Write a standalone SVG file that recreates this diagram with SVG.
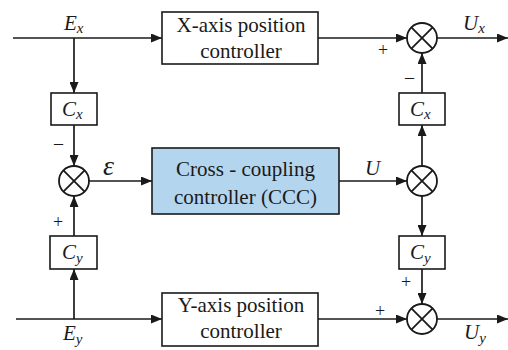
<svg xmlns="http://www.w3.org/2000/svg" width="508" height="350" viewBox="0 0 508 350">
<defs>
<marker id="ah" markerUnits="userSpaceOnUse" markerWidth="11" markerHeight="9" refX="11" refY="4.5" orient="auto">
<path d="M0,0 L11,4.5 L0,9 z" fill="#1a1a1a"/>
</marker>
<style>
.box{fill:#fff;stroke:#1a1a1a;stroke-width:1.6}
.ccc{fill:#b4d5ee;stroke:#1a1a1a;stroke-width:1.6}
.sum{fill:#fff;stroke:#1a1a1a;stroke-width:1.8}
.x{stroke:#1a1a1a;stroke-width:1.8}
.ln{stroke:#1a1a1a;stroke-width:1.7;fill:none;marker-end:url(#ah)}
text{fill:#1a1a1a;font-family:"Liberation Serif","Times New Roman",serif}
.t{font-size:21px;text-anchor:middle}
.v{font-size:21px;font-style:italic}
.s{font-size:15px;font-style:italic}
.sg{font-size:18px}
</style>
</defs>

<g id="connectors">
<line class="ln" x1="13" y1="38" x2="162" y2="38"/>
<line class="ln" x1="74" y1="38" x2="74" y2="93"/>
<line class="ln" x1="74" y1="125" x2="74" y2="166"/>
<line class="ln" x1="89" y1="181" x2="152" y2="181"/>
<line class="ln" x1="16" y1="319" x2="162" y2="319"/>
<line class="ln" x1="74" y1="319" x2="74" y2="269"/>
<line class="ln" x1="74" y1="236" x2="74" y2="196"/>
<line class="ln" x1="318" y1="38" x2="407" y2="38"/>
<line class="ln" x1="437" y1="38" x2="508" y2="38"/>
<line class="ln" x1="422" y1="93" x2="422" y2="53"/>
<line class="ln" x1="422" y1="166" x2="422" y2="125"/>
<line class="ln" x1="339" y1="181" x2="407" y2="181"/>
<line class="ln" x1="422" y1="196" x2="422" y2="236"/>
<line class="ln" x1="422" y1="269" x2="422" y2="304"/>
<line class="ln" x1="318" y1="319" x2="407" y2="319"/>
<line class="ln" x1="437" y1="319" x2="508" y2="319"/>
</g>

<g id="xctrl">
<rect class="box" x="162" y="12" width="156" height="52"/>
<text class="t" x="241" y="32">X-axis position</text>
<text class="t" x="241" y="58">controller</text>
</g>

<g id="yctrl">
<rect class="box" x="162" y="293" width="156" height="53"/>
<text class="t" x="241" y="312">Y-axis position</text>
<text class="t" x="241" y="338">controller</text>
</g>

<g id="ccc">
<rect class="ccc" x="152" y="148" width="187" height="66"/>
<text class="t" x="245.5" y="176">Cross - coupling</text>
<text class="t" x="245.5" y="204">controller (CCC)</text>
</g>

<g id="cx-left">
<rect class="box" x="51" y="93" width="46" height="32"/>
<text x="62" y="116"><tspan class="v">C</tspan><tspan class="s" dy="3">x</tspan></text>
</g>

<g id="cy-left">
<rect class="box" x="50" y="236" width="47" height="33"/>
<text x="62" y="259"><tspan class="v">C</tspan><tspan class="s" dy="4">y</tspan></text>
</g>

<g id="cx-right">
<rect class="box" x="399" y="93" width="46" height="32"/>
<text x="410" y="116"><tspan class="v">C</tspan><tspan class="s" dy="3">x</tspan></text>
</g>

<g id="cy-right">
<rect class="box" x="399" y="236" width="46" height="33"/>
<text x="410" y="259"><tspan class="v">C</tspan><tspan class="s" dy="4">y</tspan></text>
</g>

<g id="sum-left">
<circle class="sum" cx="74" cy="181" r="15"/>
<line class="x" x1="63.4" y1="170.4" x2="84.6" y2="191.6"/>
<line class="x" x1="84.6" y1="170.4" x2="63.4" y2="191.6"/>
</g>

<g id="sum-top">
<circle class="sum" cx="422" cy="38" r="15"/>
<line class="x" x1="411.4" y1="27.4" x2="432.6" y2="48.6"/>
<line class="x" x1="432.6" y1="27.4" x2="411.4" y2="48.6"/>
</g>

<g id="sum-mid">
<circle class="sum" cx="422" cy="181" r="15"/>
<line class="x" x1="411.4" y1="170.4" x2="432.6" y2="191.6"/>
<line class="x" x1="432.6" y1="170.4" x2="411.4" y2="191.6"/>
</g>

<g id="sum-bottom">
<circle class="sum" cx="422" cy="319" r="15"/>
<line class="x" x1="411.4" y1="308.4" x2="432.6" y2="329.6"/>
<line class="x" x1="432.6" y1="308.4" x2="411.4" y2="329.6"/>
</g>

<g id="labels">
<text x="64" y="30"><tspan class="v">E</tspan><tspan class="s" dy="3">x</tspan></text>
<text x="63" y="340"><tspan class="v">E</tspan><tspan class="s" dy="4">y</tspan></text>
<text x="463" y="30"><tspan class="v">U</tspan><tspan class="s" dy="3">x</tspan></text>
<text x="464" y="339"><tspan class="v">U</tspan><tspan class="s" dy="4">y</tspan></text>
<text class="v" x="365" y="175">U</text>
<text x="103" y="175" font-size="28" font-style="italic">ε</text>
<text class="sg" x="54" y="149">–</text>
<text class="sg" x="53" y="228">+</text>
<text class="sg" x="378" y="56">+</text>
<text class="sg" x="405" y="83">–</text>
<text class="sg" x="401" y="288">+</text>
<text class="sg" x="375" y="317">+</text>
</g>
</svg>
